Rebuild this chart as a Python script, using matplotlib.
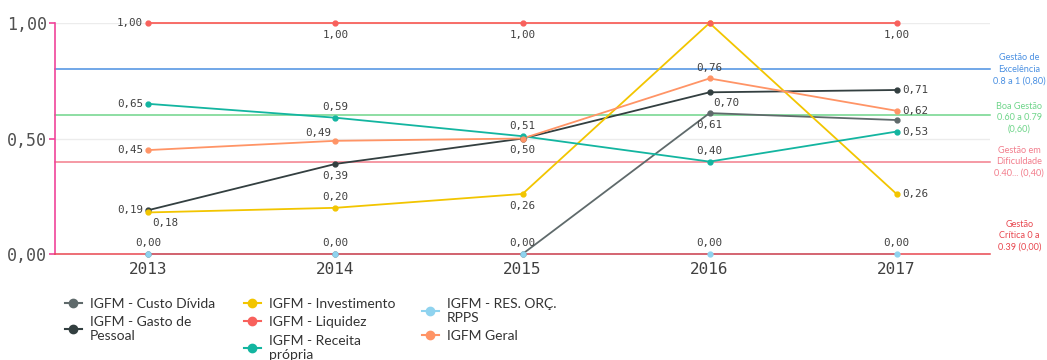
import numpy as np
import matplotlib.pyplot as plt
from matplotlib.lines import Line2D

anos = ["2013", "2014", "2015", "2016", "2017"]

custo_divida = [0.00, 0.00, 0.00, 0.61, 0.58]
gasto_pessoal = [0.19, 0.39, 0.50, 0.70, 0.71]
investimento = [0.18, 0.20, 0.26, 1.00, 0.26]
liquidez = [1.00, 1.00, 1.00, 1.00, 1.00]
receita_propria = [0.65, 0.59, 0.51, 0.40, 0.53]
res_orc_rpps = [0.00, 0.00, 0.00, 0.00, 0.00]
igfm_geral = [0.45, 0.49, 0.50, 0.76, 0.62]

faixas = [0.80, 0.60, 0.40, 0.00]
faixas_txt = ["Gestão de\nExcelência\n0.8 a 1 (0,80)",
              "Boa Gestão\n0.60 a 0.79\n(0,60)",
              "Gestão em\nDificuldade\n0.40... (0,40)",
              "Gestão\nCrítica 0 a\n0.39 (0,00)"]
faixas_cor = ["#4a90e2", "#6fd58a", "#f27d8c", "#e8474f"]
faixas_txt_y = [0.80, 0.59, 0.40, 0.08]

series = [
    ("IGFM - Custo Dívida", custo_divida, "#5f6a6b"),
    ("IGFM - Gasto de\nPessoal", gasto_pessoal, "#333f40"),
    ("IGFM - Investimento", investimento, "#f2c500"),
    ("IGFM - Liquidez", liquidez, "#f8615c"),
    ("IGFM - Receita\nprópria", receita_propria, "#13b5a0"),
    ("IGFM - RES. ORÇ.\nRPPS", res_orc_rpps, "#8fd3ef"),
    ("IGFM Geral", igfm_geral, "#ff9466"),
]

# (serie, ano, posicao do rotulo)
rotulos = [
    (3, 0, "l"), (4, 0, "l"), (6, 0, "l"), (1, 0, "l"), (2, 0, "br"), (5, 0, "t"),
    (3, 1, "b"), (4, 1, "t"), (6, 1, "tl"), (1, 1, "b"), (2, 1, "t"), (5, 1, "t"),
    (3, 2, "b"), (4, 2, "t"), (1, 2, "b"), (2, 2, "b"), (5, 2, "t"),
    (6, 3, "t"), (1, 3, "br"), (0, 3, "b"), (4, 3, "t"), (5, 3, "t"),
    (3, 4, "b"), (1, 4, "r"), (6, 4, "r"), (4, 4, "r"), (2, 4, "r"), (5, 4, "t"),
]

fig = plt.figure(figsize=(10.47, 3.6), dpi=100)
ax = fig.add_axes([0.0525, 0.2944, 0.8931, 0.6417])
x = np.arange(len(anos))

for y in [0.5, 1.0]:
    ax.axhline(y, color="#ececec", lw=1, zorder=0)
for y, c in zip(faixas, faixas_cor):
    # a faixa critica (0) fica por cima das linhas que correm em zero
    z = 3.5 if y == 0 else 1
    ax.axhline(y, color=c, lw=1.1, zorder=z, clip_on=False)

for nome, vals, cor in series:
    ax.plot(x, vals, color=cor, lw=1.3, zorder=3, clip_on=False)
    ax.plot(x, vals, color=cor, ls="", marker="o", ms=3.5, zorder=4, clip_on=False)

mono = "DejaVu Sans Mono"
offsets = {"l": (-4, 0, "right", "center"), "r": (4, 0, "left", "center"),
           "t": (0, 4, "center", "bottom"), "b": (0, -5, "center", "top"),
           "br": (3, -4, "left", "top"), "tl": (-3, 2, "right", "bottom")}
for si, xi, pos in rotulos:
    v = series[si][1][xi]
    txt = f"{v:.2f}".replace(".", ",")
    dx, dy, ha, va = offsets[pos]
    ax.annotate(txt, (xi, v), xytext=(dx, dy), textcoords="offset points",
                ha=ha, va=va, fontsize=7.8, family=mono, color="#404040")

for y, t, c in zip(faixas_txt_y, faixas_txt, faixas_cor):
    fig.text(0.9735, 0.2944 + 0.6417 * y, t, ha="center", va="center",
             fontsize=6.6, color=c, family="Lato", linespacing=1.35)

ax.set_xlim(-0.5, 4.5)
ax.set_ylim(0, 1)
ax.set_xticks(x)
ax.set_xticklabels(anos, family=mono, fontsize=11.5, color="#404040")
ax.set_yticks([0, 0.5, 1.0])
ax.set_yticklabels(["0,00", "0,50", "1,00"], family=mono, fontsize=12, color="#505050")
ax.tick_params(axis="x", length=0, pad=6)
ax.tick_params(axis="y", length=4, color="#f0449a", width=1.2, pad=2)
for s in ["top", "right", "bottom"]:
    ax.spines[s].set_visible(False)
ax.spines["left"].set_color("#f0449a")
ax.spines["left"].set_linewidth(1.2)

def handle(cor):
    return Line2D([], [], color=cor, lw=1.5, marker="o", ms=6)

grupos = [[0, 1], [2, 3, 4], [5, 6]]
xs = [0.062, 0.233, 0.403]
for g, lx in zip(grupos, xs):
    leg = fig.legend([handle(series[i][2]) for i in g], [series[i][0] for i in g],
                     loc="upper left", bbox_to_anchor=(lx, 0.172), frameon=False,
                     handlelength=1.2, handletextpad=0.6,
                     labelspacing=0.45, borderpad=0, borderaxespad=0,
                     prop={"family": "Lato", "size": 10})
    for t in leg.get_texts():
        t.set_color("#333333")
        t.set_linespacing(1.2)

fig.savefig("out.png", dpi=100)
